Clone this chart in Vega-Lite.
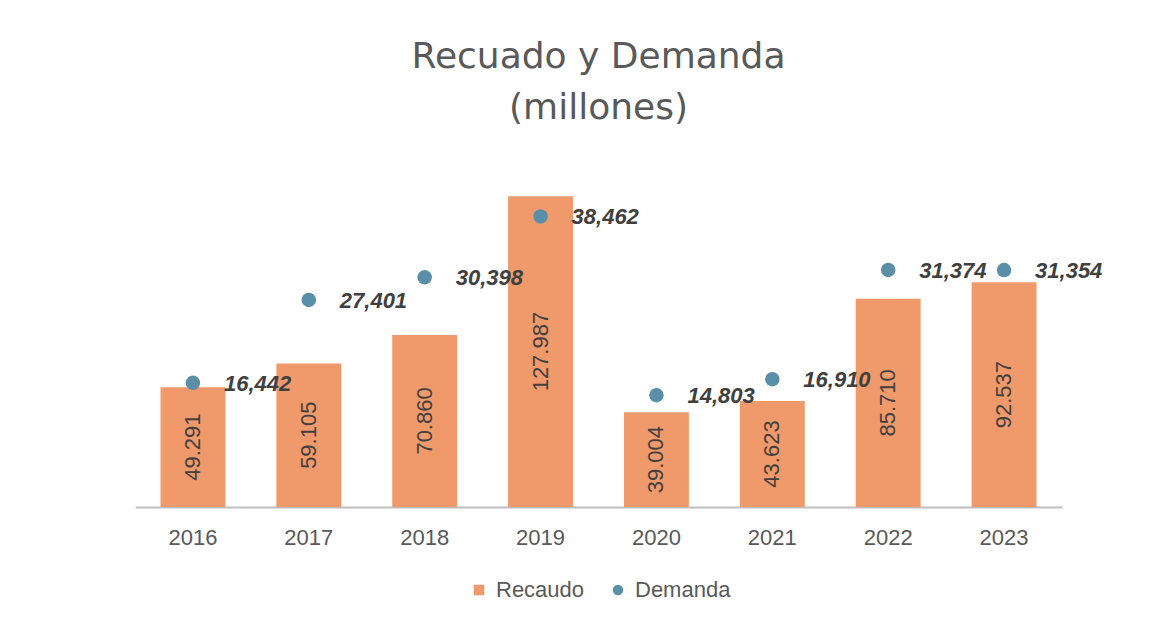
{
  "$schema": "https://vega.github.io/schema/vega-lite/v6.json",
  "autosize": {"type": "none"},
  "width": 927,
  "height": 340,
  "padding": {"left": 135, "top": 167, "right": 110, "bottom": 117},
  "background": "white",
  "title": {
    "text": ["Recuado y Demanda", "(millones)"],
    "font": "DejaVu Sans",
    "fontSize": 36,
    "fontWeight": "normal",
    "color": "#595959",
    "lineHeight": 51,
    "anchor": "middle",
    "offset": 40
  },
  "data": {
    "values": [
      {"Año": "2016", "Recaudo": 49.291, "Demanda": 16442},
      {"Año": "2017", "Recaudo": 59.105, "Demanda": 27401},
      {"Año": "2018", "Recaudo": 70.860, "Demanda": 30398},
      {"Año": "2019", "Recaudo": 127.987, "Demanda": 38462},
      {"Año": "2020", "Recaudo": 39.004, "Demanda": 14803},
      {"Año": "2021", "Recaudo": 43.623, "Demanda": 16910},
      {"Año": "2022", "Recaudo": 85.710, "Demanda": 31374},
      {"Año": "2023", "Recaudo": 92.537, "Demanda": 31354}
    ]
  },
  "encoding": {
    "x": {
      "field": "Año",
      "type": "nominal",
      "sort": null,
      "scale": {"paddingInner": 0.44, "paddingOuter": 0.22},
      "axis": {
        "title": null,
        "labelAngle": 0,
        "ticks": false,
        "grid": false,
        "domainColor": "#BFBFBF",
        "domainWidth": 2,
        "labelFont": "Liberation Sans",
        "labelFontSize": 22,
        "labelColor": "#595959",
        "labelPadding": 20
      }
    }
  },
  "layer": [
    {
      "mark": {"type": "bar", "color": "#F09A6C"},
      "encoding": {
        "y": {"field": "Recaudo", "type": "quantitative", "scale": {"domain": [0, 140]}, "axis": null},
        "color": {
          "datum": "Recaudo",
          "type": "nominal",
          "scale": {"domain": ["Recaudo", "Demanda"], "range": ["#F09A6C", "#5B8FA9"]},
          "legend": {
            "title": null,
            "orient": "none",
            "legendX": 333,
            "legendY": 412,
            "direction": "horizontal",
            "labelFont": "Liberation Sans",
            "labelFontSize": 22,
            "labelColor": "#595959",
            "symbolSize": 110,
            "labelOffset": 6,
            "columnPadding": 22,
            "encode": {
              "symbols": {
                "update": {
                  "shape": {"signal": "datum.value == 'Recaudo' ? 'square' : 'circle'"},
                  "strokeWidth": {"value": 0}
                }
              }
            }
          }
        }
      }
    },
    {
      "mark": {"type": "text", "angle": 270, "align": "center", "baseline": "middle", "font": "Liberation Sans", "fontSize": 22, "color": "#404040"},
      "encoding": {
        "y": {"field": "Recaudo", "type": "quantitative", "scale": {"domain": [0, 280]}, "axis": null},
        "text": {"field": "Recaudo", "type": "quantitative", "format": ".3f"}
      }
    },
    {
      "mark": {"type": "point", "filled": true, "opacity": 1, "size": 210, "shape": "circle"},
      "encoding": {
        "y": {"field": "Demanda", "type": "quantitative", "scale": {"domain": [0, 45000]}, "axis": null},
        "color": {"datum": "Demanda", "type": "nominal"}
      }
    },
    {
      "mark": {"type": "text", "align": "left", "baseline": "middle", "dx": 31, "dy": 1, "font": "Liberation Sans", "fontSize": 22, "fontWeight": "bold", "fontStyle": "italic", "color": "#404040"},
      "encoding": {
        "y": {"field": "Demanda", "type": "quantitative", "scale": {"domain": [0, 45000]}, "axis": null},
        "text": {"field": "Demanda", "type": "quantitative", "format": ","}
      }
    }
  ],
  "resolve": {"scale": {"y": "independent"}},
  "config": {
    "view": {"stroke": null}
  }
}
